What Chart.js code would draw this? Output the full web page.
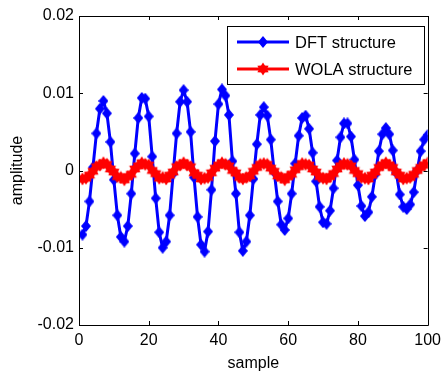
<!DOCTYPE html>
<html>
<head>
<meta charset="utf-8">
<script src="https://cdn.jsdelivr.net/npm/chart.js@4"></script>
<style>
html,body{margin:0;padding:0;background:#fff;}
#wrap{width:447px;height:374px;position:relative;}
</style>
</head>
<body>
<div id="wrap"><canvas id="c" width="447" height="374"></canvas></div>
<script>
const samples = [];
for (let i = 1; i <= 100; i++) samples.push(i);

const dftValues = [
 -0.0083,-0.0072,-0.0040,0.0004,0.0048,0.0080,0.0090,0.0074,0.0037,-0.0012,
 -0.0058,-0.0086,-0.0092,-0.0072,-0.0030,0.0022,0.0068,0.0094,0.0093,0.0070,
 0.0018,-0.0036,-0.0080,-0.0100,-0.0092,-0.0058,-0.0004,0.0048,0.0089,0.0104,
 0.0089,0.0050,-0.0009,-0.0060,-0.0096,-0.0105,-0.0079,-0.0025,0.0038,0.0086,
 0.0105,0.0097,0.0072,0.0012,-0.0030,-0.0080,-0.0104,-0.0092,-0.0058,-0.0011,
 0.0034,0.0072,0.0082,0.0071,0.0040,-0.0002,-0.0040,-0.0070,-0.0077,-0.0062,
 -0.0030,0.0009,0.0045,0.0068,0.0071,0.0054,0.0023,-0.0014,-0.0047,-0.0067,
 -0.0069,-0.0052,-0.0023,0.0013,0.0043,0.0061,0.0061,0.0044,0.0014,-0.0019,
 -0.0046,-0.0059,-0.0054,-0.0034,-0.0005,0.0025,0.0047,0.0055,0.0047,0.0026,
 -0.0003,-0.0031,-0.0047,-0.0050,-0.0044,-0.0028,0.0000,0.0025,0.0040,0.0046
];

const wolaValues = [
 -0.0011,-0.0010,-0.0006,-0.0001,0.0005,0.0007,0.0010,0.0008,0.0002,-0.0002,
 -0.0008,-0.0009,-0.0012,-0.0008,-0.0005,0.0002,0.0006,0.0010,0.0008,0.0007,
 0.0000,-0.0004,-0.0010,-0.0009,-0.0011,-0.0006,-0.0002,0.0005,0.0007,0.0010,
 0.0007,0.0005,-0.0003,-0.0006,-0.0011,-0.0010,-0.0009,-0.0003,0.0003,0.0007,
 0.0010,0.0008,0.0006,0.0000,-0.0003,-0.0009,-0.0011,-0.0009,-0.0007,-0.0001,
 0.0004,0.0008,0.0009,0.0008,0.0003,-0.0001,-0.0007,-0.0009,-0.0012,-0.0008,
 -0.0005,0.0001,0.0005,0.0009,0.0008,0.0007,0.0002,-0.0002,-0.0008,-0.0010,
 -0.0011,-0.0008,-0.0004,0.0002,0.0006,0.0009,0.0008,0.0006,0.0000,-0.0004,
 -0.0009,-0.0010,-0.0011,-0.0006,-0.0002,0.0004,0.0007,0.0010,0.0007,0.0004,
 -0.0002,-0.0006,-0.0011,-0.0010,-0.0009,-0.0005,0.0000,0.0004,0.0007,0.0010
];

const seriesLabels = ['DFT structure', 'WOLA structure'];
const xTickValues = [0, 20, 40, 60, 80, 100];
const xTickLabels = ['0', '20', '40', '60', '80', '100'];
const yTickValues = [-0.02, -0.01, 0, 0.01, 0.02];
const yTickLabels = ['-0.02', '-0.01', '0', '0.01', '0.02'];

const FONT = '"Liberation Sans", Arial, sans-serif';
const BLUE = '#0000ff';
const RED = '#ff0000';

function makeHexagram(color, size) {
  const c = document.createElement('canvas');
  c.width = size; c.height = size;
  const g = c.getContext('2d');
  const cx = size / 2, cy = size / 2, R = size / 2 - 0.5, r = R * 0.6;
  g.fillStyle = color;
  g.beginPath();
  for (let i = 0; i < 12; i++) {
    const a = -Math.PI / 2 + i * Math.PI / 6;
    const rad = i % 2 === 0 ? R : r;
    const x = cx + rad * Math.cos(a), y = cy + rad * Math.sin(a);
    if (i === 0) g.moveTo(x, y); else g.lineTo(x, y);
  }
  g.closePath();
  g.fill();
  return c;
}
function makeDiamond(color, w, h) {
  const c = document.createElement('canvas');
  c.width = w; c.height = h;
  const g = c.getContext('2d');
  g.fillStyle = color;
  g.beginPath();
  g.moveTo(w / 2, 0); g.lineTo(w, h / 2); g.lineTo(w / 2, h); g.lineTo(0, h / 2);
  g.closePath();
  g.fill();
  return c;
}
const starImg = makeHexagram(RED, 14);
const diamondImg = makeDiamond(BLUE, 10, 12);

const toXY = (xs, ys) => xs.map((x, i) => ({ x: x, y: ys[i] }));

const framePlugin = {
  id: 'frame',
  afterDraw(chart) {
    const ctx = chart.ctx;
    const a = chart.chartArea;
    const xs = chart.scales.x, ys = chart.scales.y;
    ctx.save();
    ctx.strokeStyle = '#000';
    ctx.lineWidth = 1;
    ctx.beginPath();
    ctx.rect(Math.round(a.left) + 0.5, Math.round(a.top) + 0.5,
             Math.round(a.right - a.left), Math.round(a.bottom - a.top));
    ctx.stroke();
    const tl = 4;
    ctx.beginPath();
    xTickValues.forEach(v => {
      const px = Math.round(xs.getPixelForValue(v)) + 0.5;
      ctx.moveTo(px, a.bottom); ctx.lineTo(px, a.bottom - tl);
      ctx.moveTo(px, a.top); ctx.lineTo(px, a.top + tl);
    });
    yTickValues.forEach(v => {
      const py = Math.round(ys.getPixelForValue(v)) + 0.5;
      ctx.moveTo(a.left, py); ctx.lineTo(a.left + tl, py);
      ctx.moveTo(a.right, py); ctx.lineTo(a.right - tl, py);
    });
    ctx.stroke();

    // legend
    const L = 227, T = 26, R = 424, B = 84;
    ctx.fillStyle = '#fff';
    ctx.fillRect(L, T, R - L, B - T);
    ctx.strokeRect(L + 0.5, T + 0.5, R - L, B - T);
    const rows = [42, 69];
    chart.data.datasets.forEach((ds, i) => {
      const y = rows[i];
      ctx.strokeStyle = ds.borderColor;
      ctx.lineWidth = 3;
      ctx.beginPath();
      ctx.moveTo(237, y); ctx.lineTo(289, y);
      ctx.stroke();
      const img = ds.pointStyle;
      ctx.drawImage(img, 263 - img.width / 2, y - img.height / 2);
      ctx.fillStyle = '#000';
      ctx.font = '16.5px ' + FONT;
      ctx.textBaseline = 'middle';
      ctx.textAlign = 'left';
      ctx.fillText(ds.label, 295, y + 1);
    });
    ctx.restore();
  }
};

new Chart(document.getElementById('c'), {
  type: 'line',
  data: {
    datasets: [
      {
        label: seriesLabels[0],
        data: toXY(samples, dftValues),
        borderColor: BLUE,
        backgroundColor: BLUE,
        borderWidth: 3,
        pointStyle: diamondImg,
        pointRadius: 5,
        tension: 0,
        order: 1
      },
      {
        label: seriesLabels[1],
        data: toXY(samples, wolaValues),
        borderColor: RED,
        backgroundColor: RED,
        borderWidth: 3,
        pointStyle: starImg,
        pointRadius: 7,
        tension: 0,
        order: 0
      }
    ]
  },
  options: {
    responsive: false,
    animation: false,
    devicePixelRatio: 1,
    layout: { padding: { left: 0, right: 15, top: 16, bottom: 0 } },
    plugins: { legend: { display: false }, tooltip: { enabled: false } },
    scales: {
      x: {
        type: 'linear',
        min: 0, max: 100,
        afterBuildTicks(s) { s.ticks = xTickValues.map(v => ({ value: v })); },
        afterFit(s) { s.height = 374 - 325; },
        grid: { display: false, drawTicks: false },
        border: { display: false },
        ticks: {
          color: '#000',
          font: { family: FONT, size: 16 },
          padding: 6,
          maxRotation: 0,
          autoSkip: false,
          callback: (v, i) => xTickLabels[i]
        },
        title: {
          display: true, text: 'sample', color: '#000',
          font: { family: FONT, size: 16 },
          padding: { top: 0, bottom: 1 }
        }
      },
      y: {
        type: 'linear',
        min: -0.02, max: 0.02,
        afterBuildTicks(s) { s.ticks = yTickValues.map(v => ({ value: v })); },
        afterFit(s) { s.width = 79; },
        grid: { display: false, drawTicks: false },
        border: { display: false },
        ticks: {
          color: '#000',
          font: { family: FONT, size: 16 },
          padding: 5,
          autoSkip: false,
          callback: (v, i) => yTickLabels[i]
        },
        title: {
          display: true, text: 'amplitude', color: '#000',
          font: { family: FONT, size: 16 },
          padding: { top: 8, bottom: 0 }
        }
      }
    }
  },
  plugins: [framePlugin]
});
</script>
</body>
</html>
